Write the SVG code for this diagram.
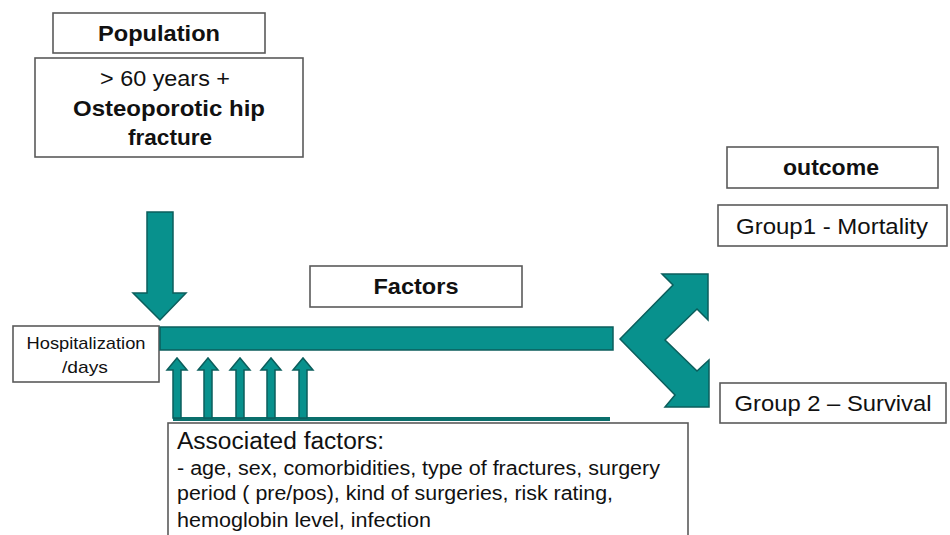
<svg xmlns="http://www.w3.org/2000/svg" width="950" height="535" viewBox="0 0 950 535">
<style>
  .box { fill: #ffffff; stroke: #5a5a5a; stroke-width: 1.6; }
  .teal { fill: #08918D; stroke: #0B5E5C; stroke-width: 1.5; stroke-linejoin: miter; }
  .t { font-family: "Liberation Sans", Arial, sans-serif; fill: #111; }
  .b { font-weight: bold; }
  .c { text-anchor: middle; }
</style>
<rect width="950" height="535" fill="#ffffff"/>

<g id="population">
  <rect class="box" x="53" y="13" width="212" height="40"/>
  <text class="t b c" x="159" y="41" font-size="22" textLength="122" lengthAdjust="spacingAndGlyphs">Population</text>
</g>

<g id="population-desc">
  <rect class="box" x="35" y="58" width="268" height="99"/>
  <text class="t c" x="165" y="86" font-size="22" textLength="130" lengthAdjust="spacingAndGlyphs">&gt; 60 years +</text>
  <text class="t b c" x="169" y="116" font-size="22" textLength="192" lengthAdjust="spacingAndGlyphs">Osteoporotic hip</text>
  <text class="t b c" x="170" y="145" font-size="22" textLength="84" lengthAdjust="spacingAndGlyphs">fracture</text>
</g>

<g id="hospitalization">
  <rect class="box" x="13" y="326" width="146" height="56"/>
  <text class="t c" x="86" y="349" font-size="17" textLength="119" lengthAdjust="spacingAndGlyphs">Hospitalization</text>
  <text class="t c" x="85" y="373" font-size="17" textLength="46" lengthAdjust="spacingAndGlyphs">/days</text>
</g>

<g id="factors">
  <rect class="box" x="310" y="266" width="212" height="41"/>
  <text class="t b c" x="416" y="294" font-size="22" textLength="85" lengthAdjust="spacingAndGlyphs">Factors</text>
</g>

<g id="outcome">
  <rect class="box" x="727" y="147" width="211" height="41"/>
  <text class="t b c" x="831" y="175" font-size="22" textLength="96" lengthAdjust="spacingAndGlyphs">outcome</text>
</g>

<g id="group1">
  <rect class="box" x="718" y="205" width="229" height="41"/>
  <text class="t c" x="832" y="234" font-size="22" textLength="192" lengthAdjust="spacingAndGlyphs">Group1 - Mortality</text>
</g>

<g id="group2">
  <rect class="box" x="720" y="383" width="226" height="40"/>
  <text class="t c" x="833" y="411" font-size="22" textLength="197" lengthAdjust="spacingAndGlyphs">Group 2 – Survival</text>
</g>

<g id="associated-factors">
  <rect class="box" x="168" y="423" width="520" height="125"/>
  <text class="t" x="177" y="449" font-size="23" textLength="207" lengthAdjust="spacingAndGlyphs">Associated factors:</text>
  <text class="t" x="177" y="475" font-size="20" textLength="483" lengthAdjust="spacingAndGlyphs">- age, sex,  comorbidities,  type of fractures,  surgery</text>
  <text class="t" x="177" y="500" font-size="20" textLength="436" lengthAdjust="spacingAndGlyphs">period ( pre/pos), kind  of surgeries,  risk rating,</text>
  <text class="t" x="177" y="527" font-size="20" textLength="254" lengthAdjust="spacingAndGlyphs">hemoglobin  level,  infection</text>
</g>

<g id="connectors">
  <polygon class="teal" points="147,212 173,212 173,293 186,293 160,320 133,293 147,293"/>
  <rect class="teal" x="160" y="327" width="453" height="23"/>
  <polygon class="teal" points="620,339 673,285 662,274 708,274 708,320 697,309 665,340 697,371 709,360 709,407 665,407 675,395"/>
  <rect x="173" y="417" width="437" height="4" fill="#0B6F6C"/>
  <polygon class="teal" points="173,418 173,370 167,370 177,358 187,370 181,370 181,418"/>
  <polygon class="teal" points="204,418 204,370 198,370 208,358 218,370 212,370 212,418"/>
  <polygon class="teal" points="236,418 236,370 230,370 240,358 250,370 244,370 244,418"/>
  <polygon class="teal" points="267,418 267,370 261,370 271,358 281,370 275,370 275,418"/>
  <polygon class="teal" points="299,418 299,370 293,370 303,358 313,370 307,370 307,418"/>
</g>
</svg>
